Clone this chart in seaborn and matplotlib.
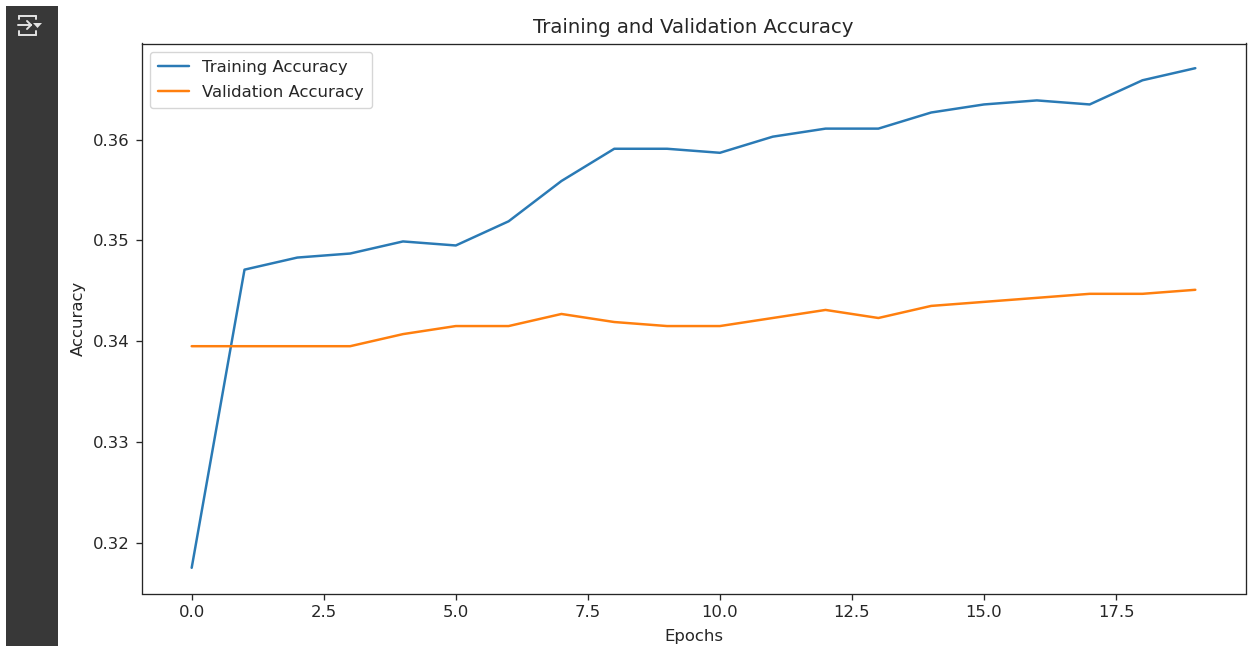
import matplotlib
matplotlib.use("Agg")
import matplotlib.pyplot as plt
from matplotlib.lines import Line2D
from matplotlib.patches import Rectangle, Polygon
import seaborn as sns

epochs = list(range(20))
training_accuracy = [0.3175, 0.3471, 0.3483, 0.3487, 0.3499, 0.3495, 0.3519, 0.3559, 0.3591, 0.3591,
                     0.3587, 0.3603, 0.3611, 0.3611, 0.3627, 0.3635, 0.3639, 0.3635, 0.3659, 0.3671]
validation_accuracy = [0.3395, 0.3395, 0.3395, 0.3395, 0.3407, 0.3415, 0.3415, 0.3427, 0.3419, 0.3415,
                       0.3415, 0.3423, 0.3431, 0.3423, 0.3435, 0.3439, 0.3443, 0.3447, 0.3447, 0.3451]
title = "Training and Validation Accuracy"
xlabel = "Epochs"
ylabel = "Accuracy"

W, H = 1249, 646
S = 1.187
sns.set_style("ticks")
plt.rcParams.update({
    "font.family": "DejaVu Sans", "font.size": 10 * S, "axes.linewidth": 0.8 * S,
    "xtick.major.width": 0.8 * S, "ytick.major.width": 0.8 * S,
    "xtick.major.size": 3.5 * S, "ytick.major.size": 3.5 * S,
    "xtick.major.pad": 3.5 * S, "ytick.major.pad": 3.5 * S,
    "xtick.labelsize": 10 * S, "ytick.labelsize": 10 * S, "axes.labelsize": 10 * S,
    "xtick.color": "#262626", "ytick.color": "#262626",
    "text.color": "#262626", "axes.labelcolor": "#262626",
    "axes.edgecolor": "#262626",
})
fig = plt.figure(figsize=(W / 100, H / 100), dpi=100, facecolor="white")
ax = fig.add_axes([141.5 / W, 1 - 593.5 / H, (1245.5 - 141.5) / W, (593.5 - 43.5) / H])

sns.lineplot(x=epochs, y=training_accuracy, ax=ax, color="#2a7ab5", linewidth=1.5 * S, label="Training Accuracy")
sns.lineplot(x=epochs, y=validation_accuracy, ax=ax, color="#ff7f0e", linewidth=1.5 * S, label="Validation Accuracy")
ax.set_xlim(-0.95, 19.95)
ax.set_ylim(0.31495, 0.36955)
ax.set_yticks([0.32, 0.33, 0.34, 0.35, 0.36])
ax.set_xticks([0, 2.5, 5, 7.5, 10, 12.5, 15, 17.5])
ax.set_title(title, fontsize=12 * S, pad=6.5 * S)
ax.set_xlabel(xlabel, labelpad=5.5 * S)
ax.set_ylabel(ylabel, labelpad=4.7 * S)
ax.legend(loc="upper left", frameon=True, framealpha=0.8, edgecolor="0.8", fancybox=True,
          fontsize=10 * S, labelspacing=0.6, borderpad=0.5, handlelength=1.86)

# dark notebook sidebar and its output icon
fig.add_artist(Rectangle((6 / W, 0), 52 / W, 1 - 6 / H, transform=fig.transFigure, facecolor="#383838", edgecolor="none", zorder=-5))
def seg(x0, y0, x1, y1):
    fig.add_artist(Line2D([x0 / W, x1 / W], [1 - y0 / H, 1 - y1 / H], transform=fig.transFigure, color="#e3e3e3", linewidth=1.4))
seg(19, 16, 36, 16); seg(19, 34.5, 36, 34.5); seg(18, 25, 31, 25)
seg(27, 21, 31, 25); seg(27, 29, 31, 25)
seg(19, 16, 19, 19); seg(36, 16, 36, 19); seg(19, 31, 19, 34.5); seg(36, 31, 36, 34.5)
fig.add_artist(Polygon([(33 / W, 1 - 23 / H), (42 / W, 1 - 23 / H), (37.5 / W, 1 - 28 / H)], closed=True, transform=fig.transFigure, facecolor="#e3e3e3", edgecolor="none"))

fig.savefig("out.png", dpi=100)
